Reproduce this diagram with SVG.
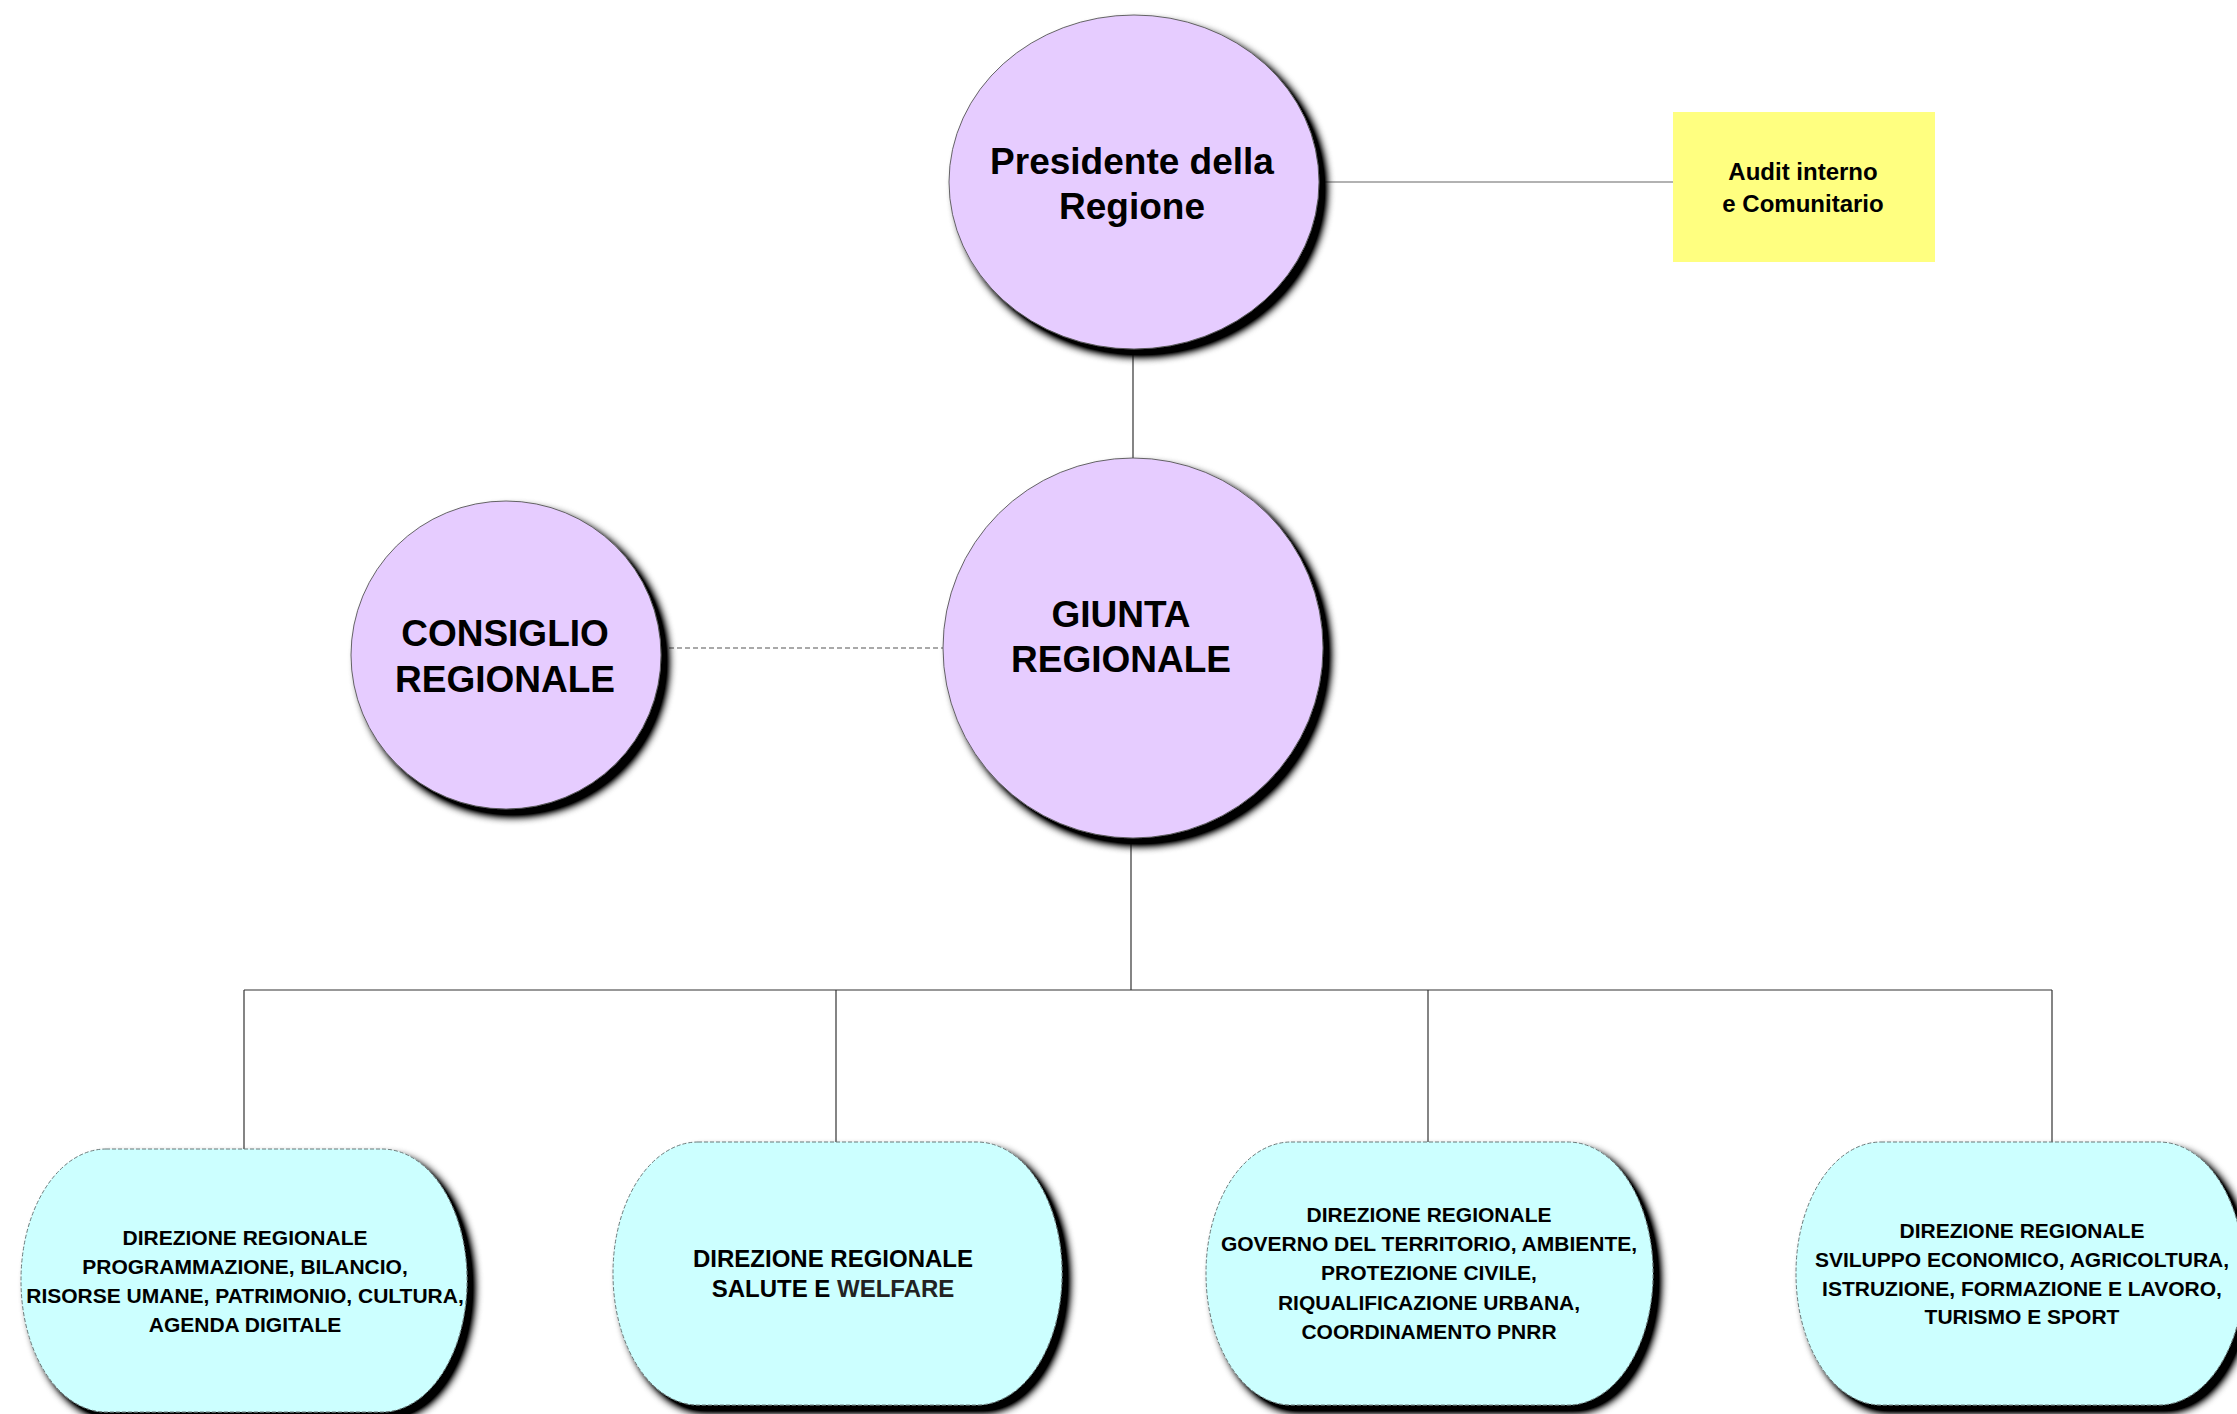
<svg xmlns="http://www.w3.org/2000/svg" width="2237" height="1414" viewBox="0 0 2237 1414">
<defs>
<filter id="sh" x="-10%" y="-10%" width="130%" height="130%">
<feGaussianBlur in="SourceAlpha" stdDeviation="4.5" result="b"/>
<feOffset in="b" dx="7" dy="7" result="o"/>
<feComponentTransfer in="o" result="o2"><feFuncA type="linear" slope="1.6"/></feComponentTransfer>
<feFlood flood-color="#000" flood-opacity="1"/>
<feComposite in2="o2" operator="in" result="s"/>
<feMerge><feMergeNode in="s"/><feMergeNode in="SourceGraphic"/></feMerge>
</filter>
</defs>
<style>
.purple{fill:#E6CCFF;stroke:#555;stroke-width:0.9}
.cyan{fill:#CCFFFF;stroke:#6a7a7a;stroke-width:1;stroke-dasharray:4,2}
.yellow{fill:#FFFF80}
.big{font-family:"Liberation Sans",Arial,sans-serif;font-weight:bold;font-size:37px;fill:#000;text-anchor:middle}
.mid{font-family:"Liberation Sans",Arial,sans-serif;font-weight:bold;font-size:24px;fill:#000;text-anchor:middle}
.sm{font-family:"Liberation Sans",Arial,sans-serif;font-weight:bold;font-size:21px;fill:#000;text-anchor:middle}
.ln{stroke:#333;stroke-width:1.2;fill:none}
.gl{stroke:#666;stroke-width:1.2;fill:none}
.dl{stroke:#555;stroke-width:1.2;stroke-dasharray:5,3;fill:none}
</style>
<rect width="2237" height="1414" fill="#fff"/>
<g id="connectors">
<line class="gl" x1="1319" y1="182" x2="1673" y2="182"/>
<line class="ln" x1="1133" y1="349" x2="1133" y2="458"/>
<line class="dl" x1="661" y1="648" x2="944" y2="648"/>
<line class="ln" x1="1131" y1="838" x2="1131" y2="990"/>
<line class="ln" x1="244" y1="990" x2="2052" y2="990"/>
<line class="ln" x1="244" y1="990" x2="244" y2="1149"/>
<line class="ln" x1="836" y1="990" x2="836" y2="1142"/>
<line class="ln" x1="1428" y1="990" x2="1428" y2="1142"/>
<line class="ln" x1="2052" y1="990" x2="2052" y2="1142"/>
</g>
<g id="presidente">
<ellipse class="purple" cx="1134" cy="182" rx="185" ry="167" filter="url(#sh)"/>
<text class="big" x="1132" y="174">Presidente della</text>
<text class="big" x="1132" y="219">Regione</text>
</g>
<g id="audit">
<rect class="yellow" x="1673" y="112" width="262" height="150"/>
<text class="mid" x="1803" y="180">Audit interno</text>
<text class="mid" x="1803" y="212">e Comunitario</text>
</g>
<g id="consiglio">
<ellipse class="purple" cx="506" cy="655" rx="155" ry="154" filter="url(#sh)"/>
<text class="big" x="505" y="646">CONSIGLIO</text>
<text class="big" x="505" y="692">REGIONALE</text>
</g>
<g id="giunta">
<ellipse class="purple" cx="1133" cy="648" rx="190" ry="190" filter="url(#sh)"/>
<text class="big" x="1121" y="627">GIUNTA</text>
<text class="big" x="1121" y="672">REGIONALE</text>
</g>
<g id="dir1">
<rect class="cyan" x="21" y="1149" width="446" height="263" rx="85" ry="131" filter="url(#sh)"/>
<text class="sm" x="245" y="1245">DIREZIONE REGIONALE</text>
<text class="sm" x="245" y="1274">PROGRAMMAZIONE, BILANCIO,</text>
<text class="sm" x="245" y="1303">RISORSE UMANE, PATRIMONIO, CULTURA,</text>
<text class="sm" x="245" y="1332">AGENDA DIGITALE</text>
</g>
<g id="dir2">
<rect class="cyan" x="613" y="1142" width="449" height="263" rx="85" ry="131" filter="url(#sh)"/>
<text class="mid" x="833" y="1267">DIREZIONE REGIONALE</text>
<text class="mid" x="833" y="1297">SALUTE E <tspan fill="#222">WELFARE</tspan></text>
</g>
<g id="dir3">
<rect class="cyan" x="1206" y="1142" width="447" height="263" rx="85" ry="131" filter="url(#sh)"/>
<text class="sm" x="1429" y="1222">DIREZIONE REGIONALE</text>
<text class="sm" x="1429" y="1251" fill="#222">GOVERNO DEL TERRITORIO, AMBIENTE,</text>
<text class="sm" x="1429" y="1280" fill="#222">PROTEZIONE CIVILE,</text>
<text class="sm" x="1429" y="1310" fill="#222">RIQUALIFICAZIONE URBANA,</text>
<text class="sm" x="1429" y="1339" fill="#222">COORDINAMENTO PNRR</text>
</g>
<g id="dir4">
<rect class="cyan" x="1796" y="1142" width="448" height="263" rx="85" ry="131" filter="url(#sh)"/>
<text class="sm" x="2022" y="1238">DIREZIONE REGIONALE</text>
<text class="sm" x="2022" y="1267">SVILUPPO ECONOMICO, AGRICOLTURA,</text>
<text class="sm" x="2022" y="1296">ISTRUZIONE, FORMAZIONE E LAVORO,</text>
<text class="sm" x="2022" y="1324">TURISMO E SPORT</text>
</g>
</svg>
